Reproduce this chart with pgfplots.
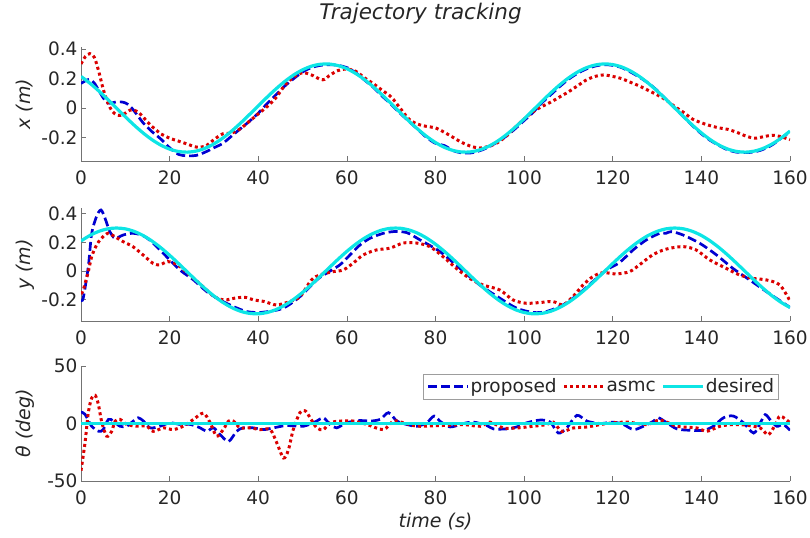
\documentclass[border=0pt]{standalone}
\usepackage{fontspec}
\setmainfont{DejaVu Sans}
\usepackage{pgfplots}
\pgfplotsset{compat=1.18}
\definecolor{cprop}{rgb}{0,0,0.82}
\definecolor{casmc}{rgb}{0.86,0,0}
\definecolor{cdes}{rgb}{0.05,0.9,0.9}
\definecolor{axgray}{gray}{0.45}
\pgfplotsset{
 myax/.style={
  scale only axis, width=709bp,
  xmin=0, xmax=160, xtick={0,20,...,160},
  axis x line*=bottom, axis y line*=left,
  axis line style={axgray, line width=0.6bp, -},
  every tick/.style={axgray, line width=0.6bp},
  major tick length=5bp,
  tick align=inside,
  ticklabel style={font=\fontsize{18.5bp}{22bp}\selectfont, text=black!85},
  xticklabel style={yshift=-6bp},
  /pgf/number format/assume math mode=true,
  label style={font=\fontsize{19bp}{23bp}\selectfont\itshape, text=black!85},
  ylabel style={at={(axis description cs:-0.079,0.5)}, anchor=center},
 },
 prop/.style={color=cprop, line width=2.7bp, dash pattern=on 9bp off 4bp, smooth},
 asmc/.style={color=casmc, line width=3bp, dash pattern=on 3bp off 3bp, line cap=butt, smooth},
 des/.style={color=cdes, line width=3.2bp, smooth},
}
\begin{document}
\begin{tikzpicture}
\path[use as bounding box] (0,0) rectangle (810bp,538bp);
% ---------------- x panel ----------------
\begin{axis}[myax, at={(81bp,377bp)}, anchor=south west, height=114bp,
  ymin=-0.36, ymax=0.415, ytick={-0.2,0,0.2,0.4},
  ylabel={x (m)},
  title={Trajectory tracking},
  title style={at={(axis description cs:0.5,1)}, anchor=base, yshift=22bp, xshift=-15bp, font=\fontsize{21.5bp}{25bp}\selectfont\itshape, text=black!85}]
\addplot[prop] coordinates {(0,0.167) (1,0.185) (2,0.195) (3,0.17) (4,0.12) (5,0.07) (6,0.035) (7,0.035) (8,0.042) (9,0.042) (10,0.035) (11,0.015) (12,-0.02) (13,-0.06) (14,-0.10) (15,-0.13) (16,-0.16) (18,-0.21) (20,-0.27) (22,-0.315) (24,-0.325) (26,-0.322) (28,-0.30) (30,-0.27) (32,-0.24) (34,-0.19) (36,-0.14) (38,-0.09) (40,-0.035) (42,0.03) (44,0.09) (46,0.15) (48,0.20) (50,0.245) (52,0.275) (54,0.29) (56,0.295) (58,0.29) (60,0.275) (62,0.24) (64,0.19) (66,0.14) (68,0.08) (70,0.025) (72,-0.035) (74,-0.09) (76,-0.145) (78,-0.20) (80,-0.24) (82,-0.255) (84,-0.29) (86,-0.305) (88,-0.305) (90,-0.29) (92,-0.265) (94,-0.23) (96,-0.19) (98,-0.14) (100,-0.085) (102,-0.03) (104,0.035) (106,0.09) (108,0.145) (110,0.195) (112,0.235) (114,0.265) (116,0.285) (118,0.295) (120,0.29) (122,0.275) (124,0.245) (126,0.21) (128,0.17) (130,0.12) (132,0.06) (134,0.0) (136,-0.06) (138,-0.12) (140,-0.175) (142,-0.22) (144,-0.255) (146,-0.285) (148,-0.30) (150,-0.303) (152,-0.298) (154,-0.28) (156,-0.25) (158,-0.205) (160,-0.165)};
\addplot[asmc] coordinates {(0,0.30) (1,0.35) (2,0.37) (3,0.345) (4,0.25) (5,0.13) (6,0.04) (7,-0.02) (8,-0.045) (9,-0.05) (10,-0.035) (11,-0.015) (12,-0.015) (13,-0.03) (14,-0.06) (15,-0.095) (16,-0.125) (17,-0.15) (18,-0.175) (20,-0.205) (22,-0.225) (24,-0.245) (26,-0.265) (28,-0.26) (30,-0.215) (32,-0.175) (34,-0.17) (36,-0.14) (38,-0.09) (40,-0.04) (42,0.01) (44,0.07) (46,0.155) (48,0.21) (50,0.24) (52,0.225) (54,0.195) (55,0.195) (56,0.22) (58,0.255) (60,0.265) (62,0.25) (64,0.205) (66,0.165) (68,0.12) (70,0.075) (72,0.0) (74,-0.075) (76,-0.11) (78,-0.125) (80,-0.135) (82,-0.165) (84,-0.2) (86,-0.235) (88,-0.26) (90,-0.272) (92,-0.26) (94,-0.235) (96,-0.19) (98,-0.13) (100,-0.075) (102,-0.025) (104,0.01) (106,0.04) (108,0.075) (110,0.11) (112,0.15) (114,0.19) (116,0.215) (118,0.225) (120,0.215) (122,0.2) (124,0.175) (126,0.15) (128,0.12) (130,0.09) (132,0.055) (134,0.01) (136,-0.03) (138,-0.075) (140,-0.1) (142,-0.12) (144,-0.135) (146,-0.145) (148,-0.165) (150,-0.19) (152,-0.205) (154,-0.195) (156,-0.185) (158,-0.195) (160,-0.215)};
\addplot[des] coordinates {(0,0.2148) (2,0.1690) (4,0.1165) (6,0.0594) (8,0) (10,-0.0594) (12,-0.1165) (14,-0.1690) (16,-0.2148) (18,-0.2520) (20,-0.2793) (22,-0.2954) (24,-0.2999) (26,-0.2925) (28,-0.2734) (30,-0.2436) (32,-0.2041) (34,-0.1565) (36,-0.1026) (38,-0.0447) (40,0.0150) (42,0.0740) (44,0.1302) (46,0.1811) (48,0.2250) (50,0.2598) (52,0.2844) (54,0.2977) (56,0.2992) (58,0.2888) (60,0.2670) (62,0.2346) (64,0.1928) (66,0.1436) (68,0.0884) (70,0.0299) (72,-0.0299) (74,-0.0884) (76,-0.1435) (78,-0.1928) (80,-0.2346) (82,-0.2670) (84,-0.2888) (86,-0.2992) (88,-0.2977) (90,-0.2844) (92,-0.2598) (94,-0.2250) (96,-0.1811) (98,-0.1302) (100,-0.0740) (102,-0.0150) (104,0.0447) (106,0.1026) (108,0.1565) (110,0.2041) (112,0.2436) (114,0.2734) (116,0.2925) (118,0.2999) (120,0.2954) (122,0.2793) (124,0.2520) (126,0.2148) (128,0.1690) (130,0.1165) (132,0.0594) (134,0) (136,-0.0594) (138,-0.1165) (140,-0.1690) (142,-0.2148) (144,-0.2520) (146,-0.2793) (148,-0.2954) (150,-0.2999) (152,-0.2925) (154,-0.2734) (156,-0.2436) (158,-0.2041) (160,-0.1565)};
\end{axis}
% ---------------- y panel ----------------
\begin{axis}[myax, at={(81bp,217bp)}, anchor=south west, height=113bp,
  ymin=-0.35, ymax=0.44, ytick={-0.2,0,0.2,0.4},
  ylabel={y (m)}]
\addplot[prop] coordinates {(0,-0.2) (0.5,-0.19) (1.65,0.03) (2.4,0.26) (3.5,0.38) (4.5,0.426) (5.4,0.37) (6.5,0.275) (7.7,0.229) (9.6,0.252) (11.8,0.263) (14.1,0.245) (16.3,0.194) (19.3,0.10) (22.3,0.007) (25.4,-0.063) (28.4,-0.145) (31.4,-0.203) (34.4,-0.249) (37.4,-0.284) (40.4,-0.291) (42,-0.285) (45.6,-0.261) (49.4,-0.18) (53.2,-0.063) (55.4,-0.016) (58.4,0.042) (60.7,0.112) (62.9,0.18) (65.2,0.228) (68.2,0.263) (70.5,0.275) (73.5,0.268) (76.5,0.217) (81,0.135) (85.5,0.018) (90,-0.098) (94.5,-0.19) (98.3,-0.26) (102,-0.29) (105,-0.284) (108.8,-0.237) (112.5,-0.156) (115.5,-0.075) (118.6,0.007) (121.5,0.058) (124.6,0.147) (127.6,0.217) (130.6,0.263) (132,0.263) (133.2,0.275) (135.8,0.252) (139.6,0.194) (143.4,0.112) (147.1,0.018) (150.9,-0.063) (154.7,-0.145) (160,-0.255)};
\addplot[asmc] coordinates {(0,-0.16) (0.5,-0.133) (1.65,-0.004) (2.4,0.1) (3.5,0.18) (4.6,0.228) (6.1,0.263) (7.6,0.24) (9.5,0.205) (11.7,0.17) (14,0.112) (16.2,0.054) (17.7,0.042) (19.6,0.065) (21.8,0.042) (24.5,-0.028) (27.1,-0.098) (30.1,-0.18) (32.4,-0.203) (34.6,-0.191) (36.9,-0.184) (39.1,-0.203) (41.4,-0.214) (44.1,-0.238) (47.1,-0.214) (49.4,-0.18) (52,-0.063) (53.9,-0.028) (56.9,-0.005) (59.2,0.007) (61.4,0.054) (63.7,0.112) (66.7,0.147) (69.7,0.159) (72.7,0.195) (75.7,0.195) (78.7,0.17) (81.7,0.1) (84.7,0.018) (87.7,-0.052) (90.7,-0.098) (94.5,-0.133) (97.5,-0.203) (100.5,-0.226) (103.5,-0.221) (106.5,-0.214) (108.8,-0.237) (111,-0.18) (113.3,-0.098) (115.5,-0.04) (117.8,-0.012) (120.8,-0.021) (123.8,-0.005) (126,0.042) (129,0.112) (132,0.152) (135.8,0.17) (138.8,0.147) (141.9,0.077) (145.6,0.018) (148.6,-0.028) (151.6,-0.052) (154.7,-0.063) (157.7,-0.098) (160,-0.21)};
\addplot[des] coordinates {(0,0.2095) (2,0.2479) (4,0.2764) (6,0.2941) (8,0.3) (10,0.2941) (12,0.2764) (14,0.2479) (16,0.2095) (18,0.1627) (20,0.1096) (22,0.0521) (24,-0.0075) (26,-0.0668) (28,-0.1234) (30,-0.1751) (32,-0.2199) (34,-0.2559) (36,-0.2819) (38,-0.2966) (40,-0.2996) (42,-0.2907) (44,-0.2703) (46,-0.2391) (48,-0.1985) (50,-0.15) (52,-0.0955) (54,-0.0373) (56,0.0224) (58,0.0813) (60,0.1369) (62,0.1870) (64,0.2298) (66,0.2634) (68,0.2867) (70,0.2985) (72,0.2985) (74,0.2867) (76,0.2635) (78,0.2298) (80,0.1870) (82,0.1369) (84,0.0813) (86,0.0224) (88,-0.0373) (90,-0.0955) (92,-0.15) (94,-0.1985) (96,-0.2391) (98,-0.2703) (100,-0.2907) (102,-0.2996) (104,-0.2966) (106,-0.2819) (108,-0.2559) (110,-0.2199) (112,-0.1751) (114,-0.1234) (116,-0.0668) (118,-0.0075) (120,0.0521) (122,0.1096) (124,0.1627) (126,0.2094) (128,0.2479) (130,0.2764) (132,0.2941) (134,0.3) (136,0.2941) (138,0.2764) (140,0.2479) (142,0.2095) (144,0.1627) (146,0.1096) (148,0.0521) (150,-0.0075) (152,-0.0668) (154,-0.1234) (156,-0.1751) (158,-0.2199) (160,-0.2559)};
\end{axis}
% ---------------- theta panel ----------------
\begin{axis}[myax, at={(81bp,57bp)}, anchor=south west, height=115bp,
  ymin=-50, ymax=50, ytick={-50,0,50},
  ylabel={θ (deg)},
  xlabel={time (s)},
  xlabel style={at={(axis description cs:0.5,0)}, anchor=base, yshift=-46bp},
  legend columns=3,
  legend style={at={(rel axis cs:1,1)}, anchor=north east, xshift=-11bp, yshift=-8bp,
    draw=axgray!70, line width=0.6bp, fill=white, inner sep=3.5bp,
    font=\fontsize{18.5bp}{22bp}\selectfont, text=black!85,
    nodes={inner sep=1bp},
    /tikz/every even column/.append style={column sep=5bp}},
  legend image code/.code={\draw[#1] (0bp,0bp) -- (40bp,0bp);}]
\addplot[prop] coordinates {(0,10) (0.9,8) (2.4,-2.4) (4,-6.8) (5,-5.3) (6.2,3.6) (7.3,2.1) (8.8,-2.4) (10.3,-2.4) (11.8,2.1) (12.9,5) (14.1,2.1) (15.6,-3.8) (17.8,-2.4) (20.1,0.6) (22.3,-0.8) (24.6,-0.8) (26.9,-3.8) (28.4,-6.8) (29.9,-3.8) (31.4,-9.7) (33.3,-15.6) (35.1,-6.8) (36.6,-3.8) (38.9,-3.8) (41.2,-5.3) (43.4,-3.8) (46.4,-1.8) (50.2,-2.4) (53.2,2.1) (54.7,5) (56.2,-0.8) (57.7,-3.8) (59.9,0.6) (63,2.6) (65.2,2.1) (67.5,3.6) (69.4,9.4) (71.3,2.1) (73.5,-0.8) (75.8,-2.4) (78,0.6) (79.7,6.5) (81,2) (83.3,-3) (86.3,0) (88.6,1.2) (91.6,-1.8) (93.1,-4.7) (96.1,-4.7) (98.3,-3) (100.6,0.6) (103.6,3) (105.9,1.2) (107.7,-8.3) (109.6,-3.9) (111.9,7.1) (114.2,2) (117.2,0) (120.2,1.2) (122.4,-0.9) (124.7,-5.3) (126.9,-2.4) (129.2,2) (130.3,5) (132.2,0.6) (134.5,-4.7) (137.5,-5.9) (140.5,-5.9) (142.7,-2.4) (145,5) (147.2,6.5) (149.5,0.6) (151.8,-8.3) (153.3,0.6) (154.4,7.7) (155.5,3.3) (157,-2.4) (158.5,-0.9) (160,-5.9)};
\addlegendentry{proposed}
\addplot[asmc] coordinates {(0,-41) (0.9,-17) (1.65,9.4) (2.4,22) (3.2,24.5) (3.9,17) (4.7,1) (5.8,-11) (6.9,-7) (7.7,2) (8.8,3.6) (10.3,-0.8) (12.6,-2.3) (14.8,-2.3) (16.3,-6.8) (18.6,-3.8) (20.8,-5.3) (23.1,-2.3) (25.4,3.6) (27.6,9) (29.1,1) (30.6,-11) (32.1,-5.3) (33.3,2.1) (34.4,2.1) (35.9,-3.8) (38.2,-3.8) (40.4,-5.3) (42.7,-5.3) (44.2,-17) (45.7,-30) (46.8,-23) (47.9,-5.3) (49.4,9.4) (50.6,11) (51.7,5) (53.2,-3.8) (54.7,-5.3) (56.2,0.6) (58.5,2.1) (61.5,2.1) (64.5,-0.8) (68.2,-5.3) (70.5,2.1) (72.8,0.6) (75.8,-2.3) (79.5,-2) (83.3,-1.5) (86.3,-0.9) (90.1,-2.4) (92.3,1.2) (95.3,-3.9) (98.3,-3.9) (102.1,-2.4) (105.1,-0.9) (106.6,1.2) (108.5,-6.8) (111.1,-3.9) (114.2,-3) (118.7,0) (123.2,1.2) (127.7,-0.9) (130.7,3) (134.5,-2.4) (139,-3.9) (141.2,-6.8) (144.2,-2.4) (147.2,-0.9) (150.2,-1.5) (153.3,-3.9) (155.1,-9.8) (156.7,-0.9) (157.8,6.5) (160,0.6)};
\addlegendentry{asmc}
\addplot[des] coordinates {(0,0) (40,0) (80,0) (120,0) (160,0)};
\addlegendentry{desired}
\end{axis}
\end{tikzpicture}
\end{document}
